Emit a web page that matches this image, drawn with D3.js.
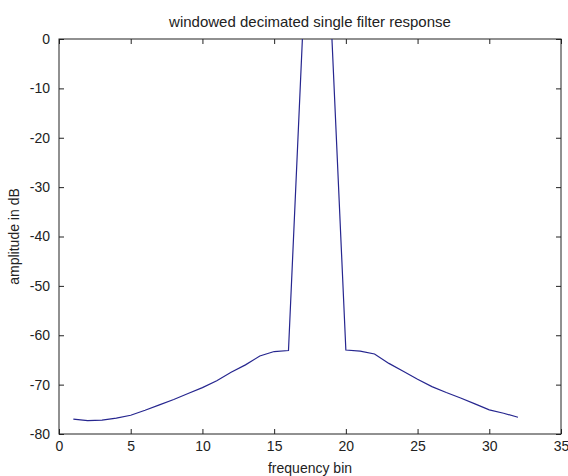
<!DOCTYPE html>
<html>
<head>
<meta charset="utf-8">
<script src="https://cdn.jsdelivr.net/npm/d3@7"></script>
<style>
  body { margin: 0; background: #fff; }
  text { font-family: "Liberation Sans", Arial, sans-serif; fill: #222; }
</style>
</head>
<body>
<script>
(function () {
  "use strict";

  // frequency bins and response (dB)
  var bins = [1, 2, 3, 4, 5, 6, 7, 8, 9, 10, 11, 12, 13, 14, 15, 16,
              17, 18, 19, 20, 21, 22, 23, 24, 25, 26, 27, 28, 29, 30, 31, 32];
  var amplitude = [-77.0, -77.3, -77.2, -76.8, -76.2, -75.2, -74.1, -73.0, -71.8, -70.6,
                   -69.2, -67.5, -66.0, -64.2, -63.3, -63.1,
                   2.0, 6.0, 2.0,
                   -63.0, -63.2, -63.8, -65.7, -67.3, -68.9, -70.4, -71.6, -72.7,
                   -73.9, -75.1, -75.8, -76.6];
  var xTicks = [0, 5, 10, 15, 20, 25, 30, 35];
  var yTicks = [0, -10, -20, -30, -40, -50, -60, -70, -80];

  var outerWidth = 568,
      outerHeight = 476,
      margin = {top: 39, right: 7, bottom: 42, left: 59},
      width = outerWidth - margin.left - margin.right,
      height = outerHeight - margin.top - margin.bottom,
      tickLen = 5;

  var x = d3.scaleLinear().domain([0, 35]).range([0, width]);
  var y = d3.scaleLinear().domain([-80, 0]).range([height, 0]);

  var svg = d3.select('body').append('svg')
      .attr('width', outerWidth)
      .attr('height', outerHeight);

  var g = svg.append('g')
      .attr('transform', 'translate(' + margin.left + ',' + margin.top + ')');

  g.append('clipPath').attr('id', 'clip')
    .append('rect').attr('width', width).attr('height', height);

  // box
  g.append('rect')
      .attr('width', width)
      .attr('height', height)
      .attr('fill', 'none')
      .attr('stroke', '#222')
      .attr('stroke-width', 1);

  // ticks on all four sides, pointing inward
  function axis(gen, tx, ty) {
    var a = g.append('g')
        .attr('transform', 'translate(' + tx + ',' + ty + ')')
        .call(gen);
    a.select('.domain').remove();
    a.selectAll('line').attr('stroke', '#222');
    a.selectAll('text')
        .style('font-size', '14px')
        .attr('fill', '#222');
    return a;
  }

  function label(d) { return String(d); }

  axis(d3.axisBottom(x).tickValues(xTicks).tickSizeInner(-tickLen).tickPadding(7)
      .tickFormat(label), 0, height);
  axis(d3.axisTop(x).tickValues(xTicks).tickSizeInner(-tickLen).tickFormat(''), 0, 0);
  axis(d3.axisLeft(y).tickValues(yTicks).tickSizeInner(-tickLen).tickPadding(9)
      .tickFormat(label), 0, 0);
  axis(d3.axisRight(y).tickValues(yTicks).tickSizeInner(-tickLen).tickFormat(''), width, 0);

  var line = d3.line()
      .x(function (d, i) { return x(bins[i]); })
      .y(function (d) { return y(d); });

  g.append('path')
      .datum(amplitude)
      .attr('clip-path', 'url(#clip)')
      .attr('fill', 'none')
      .attr('stroke', '#26268f')
      .attr('stroke-width', 1.2)
      .attr('d', line);

  svg.append('text')
      .attr('x', margin.left + width / 2)
      .attr('y', 27)
      .attr('text-anchor', 'middle')
      .style('font-size', '15px')
      .text('windowed decimated single filter response');

  svg.append('text')
      .attr('x', margin.left + width / 2)
      .attr('y', 473)
      .attr('text-anchor', 'middle')
      .style('font-size', '14px')
      .text('frequency bin');

  svg.append('text')
      .attr('transform', 'translate(19,' + (margin.top + height / 2) + ') rotate(-90)')
      .attr('text-anchor', 'middle')
      .style('font-size', '14px')
      .text('amplitude in dB');
}());
</script>
</body>
</html>
